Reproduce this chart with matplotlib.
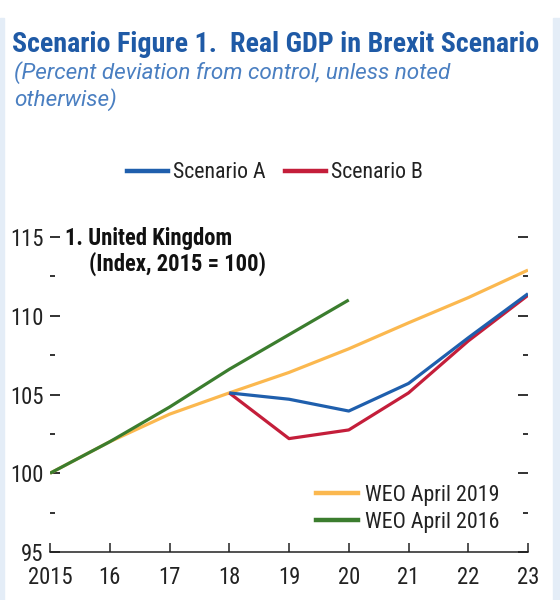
import matplotlib
matplotlib.use("Agg")
import matplotlib.pyplot as plt
from matplotlib import font_manager
from matplotlib.patches import Rectangle
from matplotlib.lines import Line2D

# ---------------- data ----------------
years = [2015, 2016, 2017, 2018, 2019, 2020, 2021, 2022, 2023]
year_labels = ["2015", "16", "17", "18", "19", "20", "21", "22", "23"]
weo2019 = [100.0, 102.0, 103.75, 105.1, 106.4, 107.9, 109.55, 111.15, 112.9]
weo2016_years = [2015, 2016, 2017, 2018, 2019, 2020]
weo2016 = [100.0, 102.0, 104.2, 106.6, 108.8, 111.0]
scen_years = [2018, 2019, 2020, 2021, 2022, 2023]
scen_a = [105.1, 104.7, 103.95, 105.7, 108.6, 111.4]
scen_b = [105.1, 102.2, 102.75, 105.1, 108.4, 111.3]
y_major = [95, 100, 105, 110, 115]
y_minor = [97.5, 102.5, 107.5, 112.5]

BLUE = "#1F5FAD"
RED = "#C41E3A"
ORANGE = "#FBB84F"
GREEN = "#3B7D2E"
TITLE = "#1F5AA6"
SUB = "#4A7FC1"
INK = "#222222"

# ---------------- fonts ----------------
avail = {f.name for f in font_manager.fontManager.ttflist}
prefs = ['Roboto Condensed', 'Arial Narrow', 'Liberation Sans Narrow',
         'Fira Sans Condensed', 'Barlow Semi Condensed']
COND = next((f for f in prefs if f in avail), 'Liberation Sans')
SUBFONT = next((f for f in ['Roboto', 'Liberation Sans'] if f in avail), COND)
plt.rcParams['font.family'] = [COND, 'DejaVu Sans']

W, H = 560, 600
fig = plt.figure(figsize=(W / 100, H / 100), dpi=100)
fig.patch.set_facecolor("white")
renderer = fig.canvas.get_renderer()


def fx(x):
    return x / W


def fy(y):
    return 1 - y / H


def fit_size(text, target_w, base=15, **kw):
    t = fig.text(0, 0, text, fontsize=base, **kw)
    w = t.get_window_extent(renderer).width
    t.remove()
    return base * target_w / w


# light blue frame strips
fig.add_artist(Rectangle((0, 0), fx(4), fy(18), transform=fig.transFigure,
                         color="#E4EDF7", zorder=0))
fig.add_artist(Rectangle((fx(553), 0), fx(7), fy(18), transform=fig.transFigure,
                         color="#E4EDF7", zorder=0))

ax = fig.add_axes([fx(50), fy(552), fx(528 - 50), (552 - 237) / H])
lw = 2.3
ax.plot(years, weo2019, color=ORANGE, lw=lw, zorder=2, solid_capstyle='butt')
ax.plot(weo2016_years, weo2016, color=GREEN, lw=lw, zorder=3, solid_capstyle='butt')
ax.plot(scen_years, scen_b, color=RED, lw=lw, zorder=4, solid_capstyle='butt')
ax.plot(scen_years, scen_a, color=BLUE, lw=lw, zorder=5, solid_capstyle='butt')

ax.set_xlim(years[0], years[-1])
ax.set_ylim(y_major[0], y_major[-1])
for s in ["top", "right", "left"]:
    ax.spines[s].set_visible(False)
ax.spines["bottom"].set_linewidth(1.1)
ax.spines["bottom"].set_color(INK)

tick_fs = fit_size("2015", 45)
ax.set_xticks(years)
ax.set_xticklabels(year_labels)
ax.set_yticks(y_major)
ax.set_yticks(y_minor, minor=True)
ax.tick_params(axis='x', direction='in', length=6.5, width=1.1, color=INK,
               labelsize=tick_fs, pad=10, labelcolor=INK)
ax.tick_params(axis='y', which='major', direction='in', length=7, width=1.3,
               color=INK, labelsize=tick_fs, pad=4.5, labelcolor=INK,
               right=True, left=True)
ax.tick_params(axis='y', which='minor', direction='in', length=3.8, width=1.3,
               color=INK, right=True, left=True)

# panel title
p1 = "1. United Kingdom"
p2 = "(Index, 2015 = 100)"
pfs = fit_size(p1, 168, fontweight='bold')
fig.text(fx(65), fy(245), p1, fontsize=pfs, fontweight='bold', color="#111111",
         ha='left', va='baseline')
fig.text(fx(89), fy(271), p2, fontsize=pfs, fontweight='bold', color="#111111",
         ha='left', va='baseline')

# lower legend
leg_fs = fit_size("WEO April 2019", 135)
leg_px = leg_fs * 100 / 72
h1 = Line2D([], [], color=ORANGE, lw=3.2)
h2 = Line2D([], [], color=GREEN, lw=3.2)
ax.legend([h1, h2], ["WEO April 2019", "WEO April 2016"], loc='upper left',
          bbox_to_anchor=(fx(316), fy(485)), bbox_transform=fig.transFigure,
          frameon=False, fontsize=leg_fs, borderpad=0, borderaxespad=0,
          handlelength=42 / leg_px, handletextpad=7 / leg_px,
          labelspacing=(28 - leg_px) / leg_px, labelcolor=INK)

# top legend
ha_ = Line2D([], [], color=BLUE, lw=3.2)
hb_ = Line2D([], [], color=RED, lw=3.2)
top_fs = fit_size("Scenario A", 93)
top_px = top_fs * 100 / 72
fig.legend([ha_, hb_], ["Scenario A", "Scenario B"], loc='center left',
           bbox_to_anchor=(fx(127), fy(173)), ncol=2, frameon=False,
           fontsize=top_fs, borderpad=0, borderaxespad=0,
           handlelength=41 / top_px, handletextpad=5 / top_px,
           columnspacing=19 / top_px, labelcolor=INK)

# titles
t_txt = "Scenario Figure 1.  Real GDP in Brexit Scenario"
t_fs = fit_size(t_txt, 528, fontweight='bold')
fig.text(fx(12), fy(52), t_txt, fontsize=t_fs, fontweight='bold', color=TITLE,
         ha='left', va='baseline')
s1 = "(Percent deviation from control, unless noted"
s_fs = fit_size(s1, 436, style='italic', family=SUBFONT)
fig.text(fx(14), fy(79), s1, fontsize=s_fs, style='italic', color=SUB,
         family=SUBFONT, ha='left', va='baseline')
fig.text(fx(14), fy(106), "otherwise)", fontsize=s_fs, style='italic', color=SUB,
         family=SUBFONT, ha='left', va='baseline')

fig.savefig("out.png", dpi=100)
